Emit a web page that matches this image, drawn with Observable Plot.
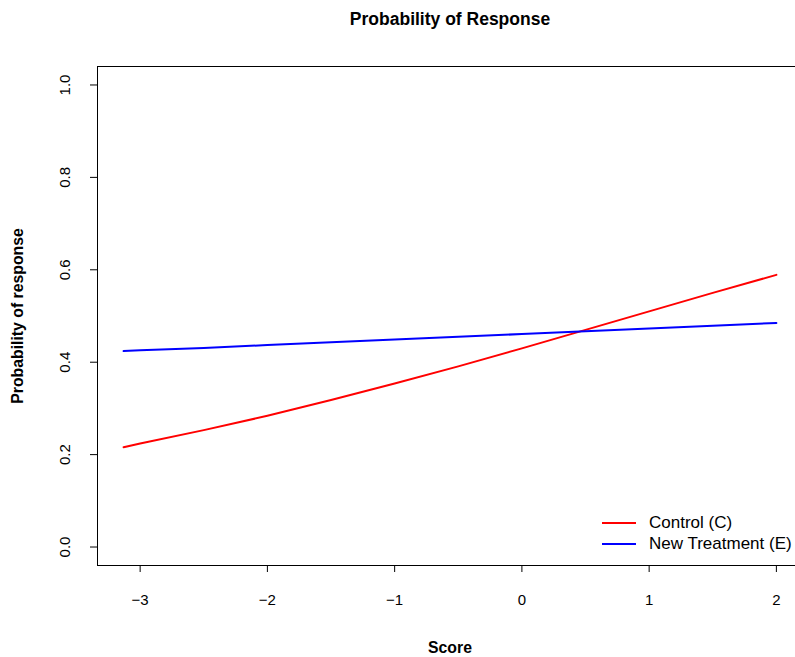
<!DOCTYPE html>
<html>
<head>
<meta charset="utf-8">
<script src="https://cdn.jsdelivr.net/npm/d3@7"></script>
<script src="https://cdn.jsdelivr.net/npm/@observablehq/plot@0.6"></script>
<style>
  html, body { margin: 0; padding: 0; background: white; overflow: hidden; }
  #wrap { position: relative; width: 795px; height: 657px; font-family: "Liberation Sans", Arial, sans-serif; }
  #legend { position: absolute; left: 602px; top: 512px; font-size: 17px; color: #000; }
  .item { position: relative; height: 21px; line-height: 21px; white-space: nowrap; }
  .swatch { position: absolute; left: 0; top: 10px; width: 34px; height: 2px; }
  .label { position: absolute; left: 47px; top: 0; }
</style>
</head>
<body>
<div id="wrap"></div>
<script>
// Data
const score     = [-3.13, -3, -2.5, -2, -1.5, -1, -0.5, 0, 0.5, 1, 1.5, 2];
const control   = [0.216, 0.224, 0.253, 0.284, 0.318, 0.354, 0.391, 0.430, 0.470, 0.510, 0.550, 0.589];
const treatment = [0.424, 0.426, 0.431, 0.437, 0.443, 0.449, 0.455, 0.461, 0.467, 0.473, 0.479, 0.485];
const seriesNames = ["Control (C)", "New Treatment (E)"];
const seriesColors = ["#FF0000", "#0000FF"];
const xTicks = [-3, -2, -1, 0, 1, 2];
const yTicks = [0, 0.2, 0.4, 0.6, 0.8, 1.0];
const titleText = "Probability of Response";
const xLabel = "Score";
const yLabel = "Probability of response";

const rows = [];
score.forEach((s, i) => {
  rows.push({score: s, p: control[i], series: seriesNames[0]});
  rows.push({score: s, p: treatment[i], series: seriesNames[1]});
});

const xmin = d3.min(score), xmax = d3.max(score);
const xpad = (xmax - xmin) * 0.04;
const ypad = 0.04;
const font = "Liberation Sans, Arial, sans-serif";
const minus = d => d3.format("d")(d).replace("-", "\u2212");

const chart = Plot.plot({
  width: 795,
  height: 657,
  marginLeft: 97,
  marginRight: -7,
  marginTop: 66,
  marginBottom: 92,
  style: {fontFamily: font, background: "white", overflow: "hidden"},
  x: {domain: [xmin - xpad, xmax + xpad]},
  y: {domain: [0 - ypad, 1 + ypad]},
  color: {domain: seriesNames, range: seriesColors},
  marks: [
    Plot.frame({stroke: "black", strokeWidth: 1}),
    Plot.axisX(xTicks, {tickSize: 7, tickPadding: 22, tickFormat: minus, fontSize: 15, label: null}),
    Plot.axisY(yTicks, {tickSize: 7, tickFormat: () => "", label: null}),
    Plot.text(yTicks, {y: d => d, text: d => d3.format(".1f")(d), frameAnchor: "left", dx: -32, rotate: -90, textAnchor: "middle", lineAnchor: "middle", fontSize: 15, fill: "black"}),
    Plot.line(rows, {x: "score", y: "p", z: "series", stroke: "series", strokeWidth: 2, curve: "linear"}),
    Plot.text([titleText], {text: d => d, frameAnchor: "top", dy: -47, lineAnchor: "middle", fontSize: 17.5, fontWeight: "bold", fill: "black"}),
    Plot.text([xLabel], {text: d => d, frameAnchor: "bottom", dy: 82, lineAnchor: "middle", fontSize: 15.8, fontWeight: "bold", fill: "black"}),
    Plot.text([yLabel], {text: d => d, frameAnchor: "left", dx: -80, rotate: -90, textAnchor: "middle", lineAnchor: "middle", fontSize: 15.8, fontWeight: "bold", fill: "black"})
  ]
});

const wrap = document.getElementById("wrap");
wrap.appendChild(chart);

const legend = document.createElement("div");
legend.id = "legend";
seriesNames.forEach((name, i) => {
  const item = document.createElement("div");
  item.className = "item";
  const sw = document.createElement("div");
  sw.className = "swatch";
  sw.style.background = seriesColors[i];
  const lb = document.createElement("div");
  lb.className = "label";
  lb.textContent = name;
  item.appendChild(sw);
  item.appendChild(lb);
  legend.appendChild(item);
});
wrap.appendChild(legend);
</script>
</body>
</html>
